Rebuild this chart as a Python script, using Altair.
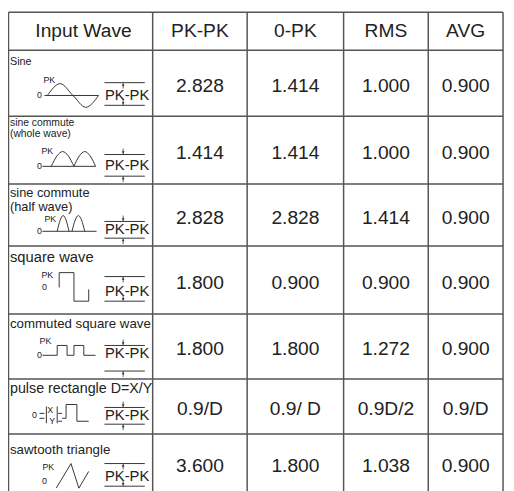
import altair as alt
import pandas as pd

# ---------------- data ----------------
col_edges = [8.5, 155, 251, 349, 435, 511]
row_edges = [8.5, 47, 114, 183, 246, 315, 381, 437, 496]

headers = ["Input Wave", "PK-PK", "0-PK", "RMS", "AVG"]
wave_names = ["Sine", "sine commute\n(whole wave)", "sine commute\n(half wave)",
              "square wave", "commuted square wave", "pulse rectangle D=X/Y",
              "sawtooth triangle"]
name_sizes = [11, 10.5, 13, 15, 13.5, 14.5, 13.5]
name_dy = [15, 10, 13, 16, 14, 14, 20]
name_step = [11, 11, 14, 14, 14, 14, 14]

pk_pk = ["2.828", "1.414", "2.828", "1.800", "1.800", "0.9/D", "3.600"]
zero_pk = ["1.414", "1.414", "2.828", "0.900", "1.800", "0.9/ D", "1.800"]
rms = ["1.000", "1.000", "1.414", "0.900", "1.272", "0.9D/2", "1.038"]
avg = ["0.900", "0.900", "0.900", "0.900", "0.900", "0.9/D", "0.900"]

# icon layout (offsets from each row's top edge)
zero_dy = [46, 51, 48, 42, 42, 37, 48]
pk_label = [(50, 30), (48, 35), (51, 35.5), (48, 29), (46, 28), None, (49, 34)]
zero_label_x = [40, 40, 40, 45, 40, 35, 45]
sym_top = [33, 39, 38, 31, 32, 29, 30]
sym_bot = [56, 61, 55, 56, 58, 46, 53]
sym_txt = [46, 50, 46, 46, 40, 37, 43]
sym_out = [False, True, True, False, True, True, False]

# waveform outlines: (row, kind, points (x, height above zero line))
shapes = [
    (0, "lin", [(45, 0), (100, 0)]),
    (0, "cur", [(48, 0), (61, 12), (74, 0), (87, -12), (100, 0)]),
    (1, "lin", [(43, 0), (97, 0)]),
    (1, "cur", [(52, 0), (57.75, 10.6), (63.5, 15), (69.25, 10.6), (75, 0)]),
    (1, "cur", [(75, 0), (80.5, 10.6), (86, 15), (91.5, 10.6), (97, 0)]),
    (2, "lin", [(43, 0), (98, 0)]),
    (2, "cur", [(58, 0), (61, 11.3), (64, 16), (67, 11.3), (70, 0)]),
    (2, "cur", [(73, 0), (76.25, 11.3), (79.5, 16), (82.75, 11.3), (86, 0)]),
    (3, "lin", [(60, 0), (60, 15), (75, 15), (75, -14), (90, -14), (90, -2)]),
    (4, "lin", [(43, 0), (58, 0), (58, 10), (68, 10), (68, 0), (75, 0),
                (75, 10), (85, 10), (85, 0), (97, 0)]),
    (5, "lin", [(40, 2), (45, 2)]),
    (5, "lin", [(40, -3), (45, -3)]),
    (5, "lin", [(47, 9), (47, -8)]),
    (5, "lin", [(58, 9), (58, -8)]),
    (5, "lin", [(59, 2), (63, 2)]),
    (5, "lin", [(59, -6), (63, -6)]),
    (5, "lin", [(63, -3), (67, -3), (67, 11), (78, 11), (78, -6), (90, -6)]),
    (6, "lin", [(57, -7), (72, 18), (80, -7), (90, 10)]),
]
pulse_marks = [(5, 51, 5, "X"), (5, 53, -6, "Y")]

# ---------------- tables ----------------
xs = alt.Scale(domain=[8, 514], nice=False, zero=False)
ys = alt.Scale(domain=[491, 8], nice=False, zero=False)
FONT = "Liberation Sans"
INK = "#222222"


def X(f="x"):
    return alt.X(f"{f}:Q", scale=xs, axis=None)


def Y(f="y"):
    return alt.Y(f"{f}:Q", scale=ys, axis=None)


row_tops = row_edges[1:-1]
col_mid = [(col_edges[i] + col_edges[i + 1]) / 2 for i in range(len(col_edges) - 1)]
head_x = [col_mid[0] + 3] + col_mid[1:]

grid_h = pd.DataFrame({"y": row_edges, "x": col_edges[0], "x2": col_edges[-1]})
grid_v = pd.DataFrame({"x": col_edges, "y": row_edges[0], "y2": row_edges[-1]})

head_df = pd.DataFrame({"x": head_x, "y": (row_edges[0] + row_edges[1]) / 2, "t": headers})

val_rows = []
for r in range(7):
    mid = (row_edges[r + 1] + row_edges[r + 2]) / 2 + 3
    for c, col in enumerate([pk_pk, zero_pk, rms, avg]):
        val_rows.append({"x": col_mid[c + 1], "y": mid, "t": col[r]})
val_df = pd.DataFrame(val_rows)

name_rows = []
for r in range(7):
    for j, part in enumerate(wave_names[r].split("\n")):
        name_rows.append({"x": col_edges[0] + 1.5,
                          "y": row_tops[r] + name_dy[r] + j * name_step[r],
                          "t": part, "s": name_sizes[r]})
name_df = pd.DataFrame(name_rows)

line_rows = []
for gi, (r, kind, pts) in enumerate(shapes):
    z = row_tops[r] + zero_dy[r]
    for i, (px, h) in enumerate(pts):
        line_rows.append({"g": gi, "i": i, "k": kind, "x": px, "y": z - h})
line_df = pd.DataFrame(line_rows)

small_rows = []
for r in range(7):
    z = row_tops[r] + zero_dy[r]
    small_rows.append({"x": zero_label_x[r], "y": z, "t": "0"})
    if pk_label[r] is not None:
        small_rows.append({"x": pk_label[r][0], "y": row_tops[r] + pk_label[r][1], "t": "PK"})
for r, px, h, t in pulse_marks:
    small_rows.append({"x": px, "y": row_tops[r] + zero_dy[r] - h, "t": t})
small_df = pd.DataFrame(small_rows)

sym_lines, sym_text, stems, heads = [], [], [], []
for r in range(7):
    top = row_tops[r] + sym_top[r]
    bot = row_tops[r] + sym_bot[r]
    sym_lines.append({"x": 106, "x2": 147, "y": top})
    sym_lines.append({"x": 106, "x2": 147, "y": bot})
    sym_text.append({"x": 129, "y": row_tops[r] + sym_txt[r], "t": "PK-PK"})
    if sym_out[r]:
        stems.append({"x": 125, "y": top - 6, "y2": top})
        stems.append({"x": 125, "y": bot, "y2": bot + 6})
        heads.append({"x": 125, "y": top - 2, "s": "triangle-down"})
        heads.append({"x": 125, "y": bot + 2, "s": "triangle-up"})
    else:
        stems.append({"x": 125, "y": top, "y2": top + 6})
        stems.append({"x": 125, "y": bot - 6, "y2": bot})
        heads.append({"x": 125, "y": top + 2, "s": "triangle-up"})
        heads.append({"x": 125, "y": bot - 2, "s": "triangle-down"})
sym_lines = pd.DataFrame(sym_lines)
sym_text = pd.DataFrame(sym_text)
stems = pd.DataFrame(stems)
heads = pd.DataFrame(heads)

# ---------------- layers ----------------
h_rules = alt.Chart(grid_h).mark_rule(color="#555555", strokeWidth=1.5).encode(
    x=X(), x2="x2:Q", y=Y())
v_rules = alt.Chart(grid_v).mark_rule(color="#555555", strokeWidth=1.5).encode(
    x=X(), y=Y(), y2="y2:Q")

head_txt = alt.Chart(head_df).mark_text(font=FONT, fontSize=19.5, color=INK,
                                        baseline="middle", align="center").encode(
    x=X(), y=Y(), text="t:N")
val_txt = alt.Chart(val_df).mark_text(font=FONT, fontSize=19.5, color=INK,
                                      baseline="middle", align="center").encode(
    x=X(), y=Y(), text="t:N")
name_txt = alt.Chart(name_df).mark_text(font=FONT, color=INK, baseline="alphabetic",
                                        align="left").encode(
    x=X(), y=Y(), text="t:N", size=alt.Size("s:Q", scale=None, legend=None))

lin = alt.Chart(line_df).transform_filter(alt.datum.k == "lin").mark_line(
    color="#333333", strokeWidth=1).encode(
    x=X(), y=Y(), detail="g:N", order="i:Q")
cur = alt.Chart(line_df).transform_filter(alt.datum.k == "cur").mark_line(
    color="#333333", strokeWidth=1, interpolate="monotone").encode(
    x=X(), y=Y(), detail="g:N", order="i:Q")

small_txt = alt.Chart(small_df).mark_text(font=FONT, fontSize=9, color=INK,
                                          baseline="middle", align="center").encode(
    x=X(), y=Y(), text="t:N")

sym_rules = alt.Chart(sym_lines).mark_rule(color="#333333", strokeWidth=1).encode(
    x=X(), x2="x2:Q", y=Y())
sym_words = alt.Chart(sym_text).mark_text(font=FONT, fontSize=15, color=INK,
                                          baseline="middle", align="center").encode(
    x=X(), y=Y(), text="t:N")
stem_rules = alt.Chart(stems).mark_rule(color="#333333", strokeWidth=0.8).encode(
    x=X(), y=Y(), y2="y2:Q")
head_pts = alt.Chart(heads).mark_point(filled=True, size=8, color="#333333", opacity=1).encode(
    x=X(), y=Y(), shape=alt.Shape("s:N", scale=None, legend=None))

chart = alt.layer(h_rules, v_rules, head_txt, val_txt, name_txt, lin, cur, small_txt,
                  sym_rules, sym_words, stem_rules, head_pts).properties(
    width=506, height=483, padding=0, autosize=alt.AutoSizeParams(type="none"),
    background="white"
).configure_view(stroke=None)

chart.save("out.html", embed_options={"renderer": "svg", "actions": False})
